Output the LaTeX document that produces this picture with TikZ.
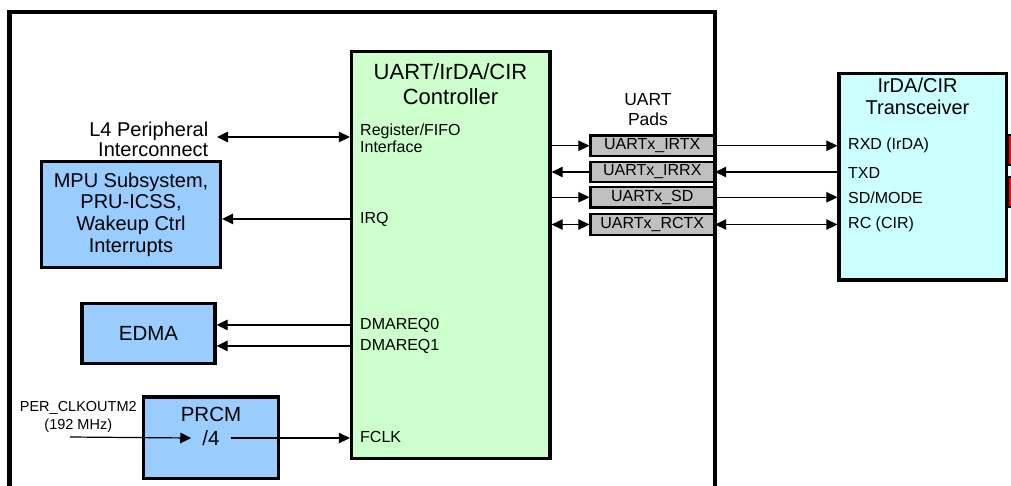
\documentclass[tikz,border=0pt]{standalone}
\usepackage{fontspec}
\setmainfont{Liberation Sans}
\usetikzlibrary{arrows.meta,positioning}

\definecolor{ctrlgreen}{HTML}{CCFFCC}
\definecolor{xcvrcyan}{HTML}{CCFFFF}
\definecolor{sysblue}{HTML}{99CCFF}
\definecolor{padgray}{HTML}{C0C0C0}

\begin{document}
\begin{tikzpicture}[
        x=1pt, y=-1pt,
        every node/.style={font=\fontsize{16}{17.5}\selectfont, inner sep=0pt},
        caixa/.style={draw, line width=3.3pt},
        titulo/.style={font=\fontsize{20.5}{22}\selectfont},
        pad/.style={draw, line width=2.3pt, fill=padgray, minimum width=123.5, minimum height=20.5},
        porta/.style={anchor=base west},
        seta/.style={->, line width=1.2pt},
        dupla/.style={<->, line width=1.2pt},
        >={Triangle[length=11pt,width=10.5pt]}
    ]

        \useasboundingbox[fill=white] (0,0) rectangle (1011,485);

        %--------------------------------
        % moldura do dispositivo
        %--------------------------------
        \begin{scope}
            \clip (0,0) rectangle (1011,485);
            \draw[line width=4.2pt] (9.5,495) -- (9.5,12) -- (715,12) -- (715,495);
            \draw[fill=red, line width=1.2pt] (1008.3,135) rectangle (1030,165);
            \draw[fill=red, line width=1.2pt] (1008.3,177) rectangle (1030,207);
        \end{scope}

        %--------------------------------
        % UART/IrDA/CIR Controller
        %--------------------------------
        \node[caixa, fill=ctrlgreen, minimum width=198.5, minimum height=407] (ctrl) at (450.75,255) {};
        \node[titulo, font=\fontsize{22}{24}\selectfont, anchor=base] (ctrlt1) at (450.5,79) {UART/IrDA/CIR};
        \node[titulo, font=\fontsize{22}{24}\selectfont, anchor=base] (ctrlt2) at (450.5,104) {Controller};

        \node[porta] (reg)  at (360,135) {Register/FIFO};
        \node[porta] (intf) at (360,152) {Interface};
        \node[porta] (irq)  at (360,223) {IRQ};
        \node[porta] (dma0) at (360,329) {DMAREQ0};
        \node[porta] (dma1) at (360,350) {DMAREQ1};
        \node[porta] (fclk) at (360,442) {FCLK};

        %--------------------------------
        % lado esquerdo
        %--------------------------------
        \node[font=\fontsize{20}{21}\selectfont, anchor=base east] (l4a) at (208.5,136.7) {L4 Peripheral};
        \node[font=\fontsize{20}{21}\selectfont, anchor=base east] (l4b) at (208.5,156.7) {Interconnect};
        \coordinate (l4port) at (217,137);

        \node[caixa, fill=sysblue, minimum width=179, minimum height=105.5,
              align=center, font=\fontsize{20}{21.7}\selectfont] (mpu) at (131,214.5)
              {MPU Subsystem,\\PRU-ICSS,\\Wakeup Ctrl\\Interrupts};

        \node[caixa, fill=sysblue, titulo, minimum width=133, minimum height=60] (edma) at (148.5,333.5) {EDMA};

        \node[caixa, fill=sysblue, minimum width=135, minimum height=81.5] (prcm) at (211,437.75) {};
        \node[titulo, anchor=base] (prcmt) at (211,421.7) {PRCM};
        \node[titulo, inner xsep=11pt] (div) at (211,438) {/4};

        \node[font=\fontsize{14.5}{15}\selectfont, anchor=base] (clk1) at (78.3,411.7) {PER\_CLKOUTM2};
        \node[font=\fontsize{14.5}{15}\selectfont, anchor=base] (clk2) at (78.3,429) {(192 MHz)};
        \coordinate (clkin) at (70,437);

        \draw[dupla] (l4port) -- (l4port -| ctrl.west);
        \draw[seta] (ctrl.west |- irq.west) -- (mpu.east |- irq.west);
        \draw[seta] (ctrl.west |- dma0.west) -- (edma.east |- dma0.west);
        \draw[seta] (ctrl.west |- dma1.west) -- (edma.east |- dma1.west);
        \draw[seta] (clkin) -- (div.west);
        \draw[seta] (div.east) -- (ctrl.west |- div.east);

        %--------------------------------
        % UART Pads
        %--------------------------------
        \node[font=\fontsize{17.5}{19}\selectfont, anchor=base] (padt1) at (648,105) {UART};
        \node[font=\fontsize{17.5}{19}\selectfont, anchor=base] (padt2) at (648,125.5) {Pads};

        \foreach \y/\n/\t in {145.75/irtx/IRTX, 172/irrx/IRRX, 197.25/sd/SD, 224.5/rctx/RCTX}
            \node[pad] (\n) at (652.25,\y) {UARTx\_\t};

        \draw[seta]  (ctrl.east |- irtx) -- (irtx.west);
        \draw[seta]  (irrx.west) -- (ctrl.east |- irrx);
        \draw[seta]  (ctrl.east |- sd) -- (sd.west);
        \draw[dupla] (ctrl.east |- rctx) -- (rctx.west);

        %--------------------------------
        % IrDA/CIR Transceiver
        %--------------------------------
        \node[caixa, fill=xcvrcyan, minimum width=167.5, minimum height=206.7] (xcvr) at (922.75,176.65) {};
        \node[titulo, font=\fontsize{20}{21}\selectfont, anchor=base] (xcvrt1) at (917.5,92) {IrDA/CIR};
        \node[titulo, font=\fontsize{20}{21}\selectfont, anchor=base] (xcvrt2) at (917.5,114) {Transceiver};

        \node[porta] (rxd) at (848,149) {RXD (IrDA)};
        \node[porta] (txd) at (848,178) {TXD};
        \node[porta] (sdm) at (848,203) {SD/MODE};
        \node[porta] (rc)  at (848,228) {RC (CIR)};

        \draw[seta]  (irtx.east) -- (irtx -| xcvr.west);
        \draw[seta]  (irrx -| xcvr.west) -- (irrx.east);
        \draw[seta]  (sd.east) -- (sd -| xcvr.west);
        \draw[dupla] (rctx.east) -- (rctx -| xcvr.west);

    \end{tikzpicture}
\end{document}
